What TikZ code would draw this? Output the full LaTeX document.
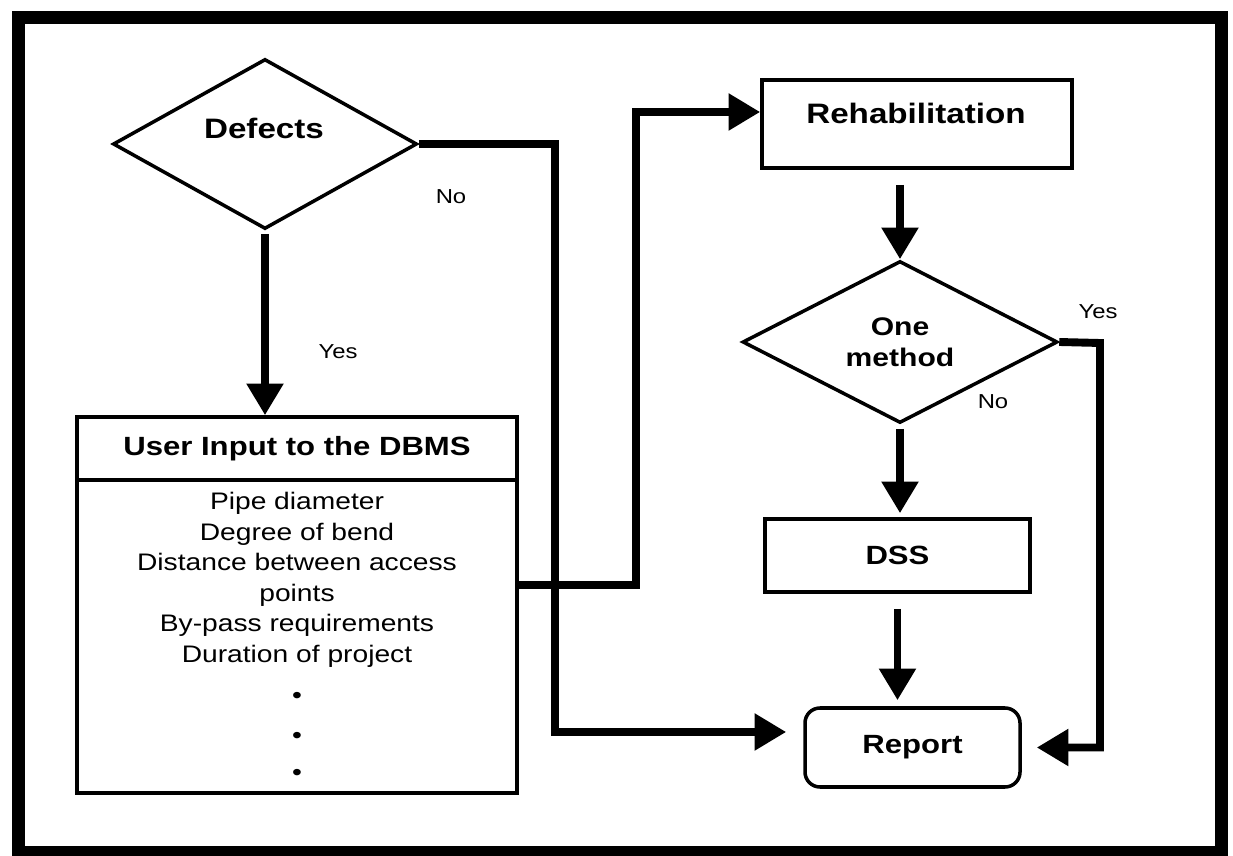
\documentclass[tikz,border=0pt]{standalone}
\usepackage{fontspec}
\setmainfont{Liberation Sans}[FakeStretch=1.18]
\usetikzlibrary{shapes.geometric,arrows.meta}

\tikzset{
  box/.style={draw, line width=2pt, inner sep=0pt},
  decision/.style={draw, diamond, line width=2pt, inner sep=0pt},
  title/.style={font=\bfseries\fontsize{15}{18}\selectfont},
  smalltext/.style={font=\fontsize{11.5}{14}\selectfont},
  wire/.style={line width=4.5pt},
  flow/.style={wire, -{Triangle[length=18pt,width=20pt]}}
}

\begin{document}
\begin{tikzpicture}[scale=0.2]
	\useasboundingbox (0,0) rectangle (123.3,-85.6);
	\draw [line width=0.26cm] (1.8,-1.75) rectangle (122.15,-85.2);
	% left column
	\node [decision, minimum width=6.08cm, minimum height=3.4cm] (defects) at (26.5,-14.4) {};
	\node [title, font=\bfseries\fontsize{16}{19}\selectfont] (defectstext) at (26.4,-12.8) {Defects};
	\node [smalltext] (defectsno) at (45.1,-19.7) {No};
	\node [smalltext] (defectsyes) at (33.8,-35.2) {Yes};
	\node [box, title, minimum width=8.8cm, minimum height=1.26cm] (inputhead) at (29.7,-44.85) {User Input to the DBMS};
	\node [box, minimum width=8.8cm, minimum height=6.26cm, align=center,
	       font=\fontsize{13.6}{17.4}\selectfont] (inputbody) at (29.7,-63.65)
	      {Pipe diameter\\Degree of bend\\Distance between access\\points\\By-pass requirements\\Duration of project\\[6pt]•\\[5pt]•\\[4pt]•};
	% right column
	\node [box, minimum width=6.2cm, minimum height=1.76cm] (rehab) at (91.7,-12.4) {};
	\node [title, font=\bfseries\fontsize{16}{19}\selectfont] (rehabtext) at (91.6,-11.3) {Rehabilitation};
	\node [decision, minimum width=6.3cm, minimum height=3.24cm, align=center,
	       font=\bfseries\fontsize{14.5}{17.6}\selectfont] (method) at (90.0,-34.2) {One\\method};
	\node [smalltext] (methodyes) at (109.8,-31.2) {Yes};
	\node [smalltext] (methodno) at (99.3,-40.2) {No};
	\node [box, title, minimum width=5.3cm, minimum height=1.46cm] (dss) at (89.75,-55.55) {DSS};
	\node [box, title, rounded corners=0.3cm, minimum width=4.3cm, minimum height=1.58cm] (report) at (91.25,-74.75) {Report};
	% bends of the connectors
	\coordinate (noturn) at (55.5,-14.4);
	\coordinate (nodown) at (55.5,-73.2);
	\coordinate (bodyout) at (63.6,-58.5);
	\coordinate (rehabturn) at (63.6,-11.2);
	\coordinate (yesturn) at (110.0,-34.3);
	% connectors
	\draw [flow, shorten <=0.06cm] (defects.south) -- (defects.south |- inputhead.north);
	\draw [flow, shorten >=0.34cm] (defects.east) -- (noturn) -- (nodown) -- (nodown -| report.west);
	\draw [flow] (bodyout -| inputbody.east) -- (bodyout) -- (rehabturn) -- (rehabturn -| rehab.west);
	\draw [flow, shorten <=0.3cm] (rehab.south -| method.north) -- (method.north);
	\draw [flow, shorten <=0.08cm, shorten >=0.08cm] (method.south) -- (method.south |- dss.north);
	\draw [flow, shorten <=0.3cm, shorten >=0.12cm] (dss.south) -- (dss.south |- report.north);
	\draw [flow, shorten >=0.3cm] (method.east) -- (yesturn) |- (report.east);
\end{tikzpicture}
\end{document}
